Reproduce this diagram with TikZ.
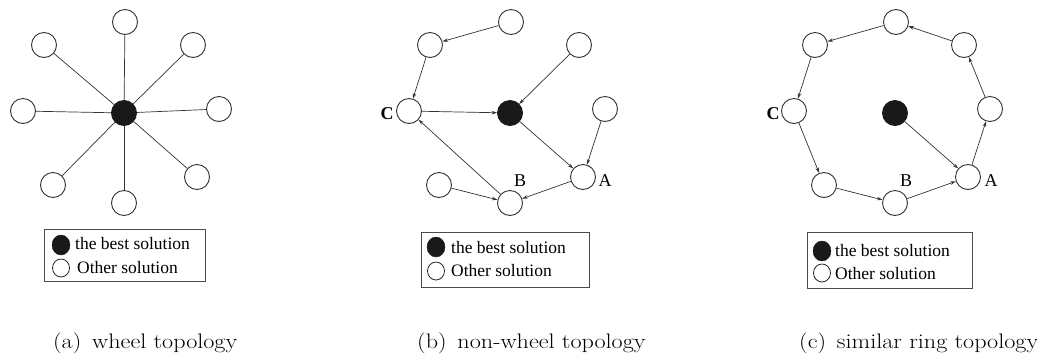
\documentclass[tikz,border=0pt]{standalone}
\usepackage{fontspec}
\usepackage{graphicx}
\newfontfamily\legfont{Liberation Serif}
\usetikzlibrary{arrows.meta,shapes.geometric}
\newcommand\placeringnodes[1]{%
  \node[best] (#1center) at (0,0) {};
  \node[sol] (#1top) at (1,-91) {};
  \node[sol] (#1ul) at (-80,-68) {};
  \node[sol] (#1ur) at (69,-68) {};
  \node[sol] (#1left) at (-101,-2) {};
  \node[sol] (#1right) at (95,-4) {};
  \node[sol] (#1bl) at (-71,72) {};
  \node[sol] (#1bottom) at (0,90) {};
  \node[sol] (#1br) at (73,64) {};}
\newcommand\captionline[1]{\scalebox{1.15}[1]{#1}}
\begin{document}
\begin{tikzpicture}[x=1pt,y=-1pt,
  sol/.style={circle,draw=black!80,line width=0.9pt,minimum size=25pt,inner sep=0pt,fill=white},
  best/.style={sol,fill=black!90,draw=black!90},
  link/.style={draw=black!80,line width=0.7pt},
  arr/.style={link,-{Stealth[length=5.5pt,width=3.5pt]}},
  lab/.style={font=\legfont\fontsize{18}{20}\selectfont,inner sep=0pt},
  legbox/.style={draw=black!70,line width=0.8pt,inner sep=0pt},
  legbest/.style={ellipse,fill=black!90,draw=black!90,minimum width=18pt,minimum height=20pt,inner sep=0pt},
  legsol/.style={ellipse,draw=black!85,line width=0.8pt,minimum width=17pt,minimum height=18pt,inner sep=0pt},
  legtext/.style={font=\legfont\fontsize{17.5}{20}\selectfont,inner sep=0pt,anchor=base west},
  captext/.style={font=\fontsize{21}{25}\selectfont,inner sep=0pt,anchor=base west}]
\useasboundingbox (0,0) rectangle (1037,357);

% panel (a)
\begin{scope}[shift={(124,113)}]
  \placeringnodes{a}
  \foreach \n in {top,ul,ur,left,right,bl,bottom,br}
    \draw[link] (acenter) -- (a\n);
\end{scope}

% panel (b)
\begin{scope}[shift={(510,113)}]
  \placeringnodes{b}
  \draw[arr] (btop) -- (bul);
  \draw[arr] (bul) -- (bleft);
  \draw[arr] (bur) -- (bcenter);
  \draw[arr] (bleft) -- (bcenter);
  \draw[arr] (bcenter) -- (bbr);
  \draw[arr] (bright) -- (bbr);
  \draw[arr] (bbr) -- (bbottom);
  \draw[arr] (bbl) -- (bbottom);
  \draw[arr] (bbottom) -- (bleft);
  \node[lab,font=\legfont\bfseries\fontsize{18}{20}\selectfont] (bC) at (-123,1) {C};
  \node[lab] (bA) at (95,68) {A};
  \node[lab] (bB) at (10,68) {B};
\end{scope}

% panel (c)
\begin{scope}[shift={(895,113)}]
  \placeringnodes{c}
  \draw[arr] (ctop) -- (cul);
  \draw[arr] (cul) -- (cleft);
  \draw[arr] (cleft) -- (cbl);
  \draw[arr] (cbl) -- (cbottom);
  \draw[arr] (cbottom) -- (cbr);
  \draw[arr] (cbr) -- (cright);
  \draw[arr] (cright) -- (cur);
  \draw[arr] (cur) -- (ctop);
  \draw[arr] (ccenter) -- (cbr);
  \node[lab,font=\legfont\bfseries\fontsize{18}{20}\selectfont] (cC) at (-122,1) {C};
  \node[lab] (cA) at (96,68) {A};
  \node[lab] (cB) at (11,68) {B};
\end{scope}

% legends
\node[legbox,minimum width=161pt,minimum height=52pt] (aleg) at (124.5,255) {};
\node[legbest] (alegb) at (61,245) {};
\node[legsol] (alegs) at (61,268) {};
\node[legtext] (alegbt) at (75,249) {the best solution};
\node[legtext] (alegst) at (77,273) {Other solution};

\node[legbox,minimum width=168pt,minimum height=55pt] (bleg) at (505,259.5) {};
\node[legbest] (blegb) at (436,247) {};
\node[legsol] (blegs) at (436,271) {};
\node[legtext] (blegbt) at (451,253) {the best solution};
\node[legtext] (blegst) at (451,276) {Other solution};

\node[legbox,minimum width=165pt,minimum height=56pt] (cleg) at (889.5,260) {};
\node[legbest] (clegb) at (822,251) {};
\node[legsol] (clegs) at (822,273) {};
\node[legtext] (clegbt) at (835,256) {the best solution};
\node[legtext] (clegst) at (835,279) {Other solution};

% captions
\node[captext] (capa) at (53,348) {\captionline{(a)\hspace{0.45em}wheel topology}};
\node[captext] (capb) at (417,348) {\captionline{(b)\hspace{0.45em}non-wheel topology}};
\node[captext] (capc) at (799,348) {\captionline{(c)\hspace{0.45em}similar ring topology}};
\end{tikzpicture}
\end{document}
